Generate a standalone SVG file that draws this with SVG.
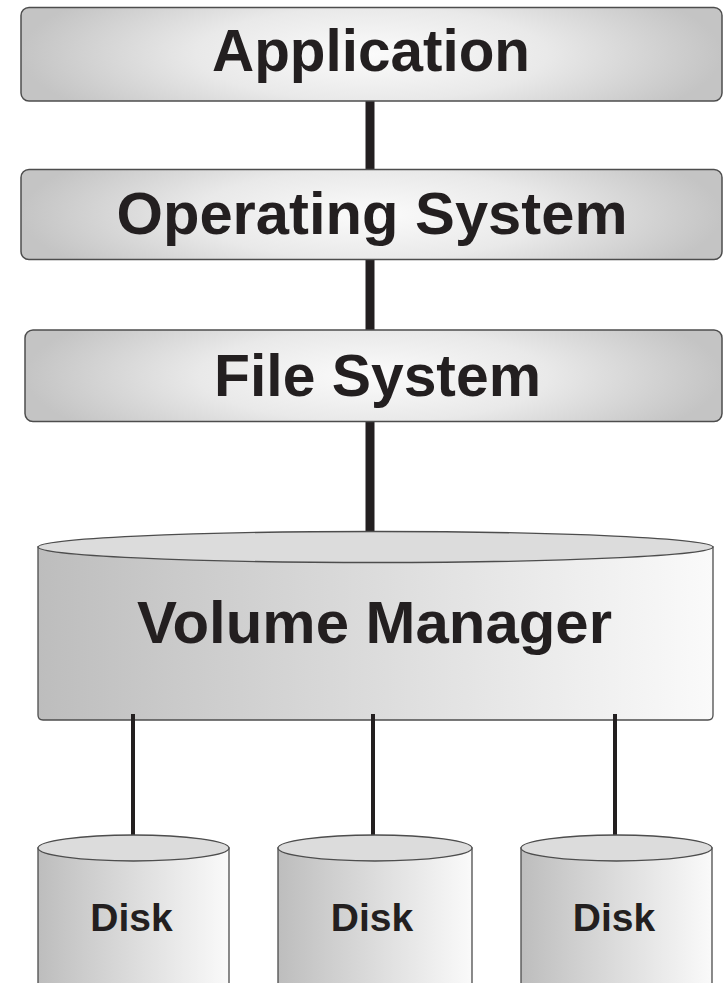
<svg xmlns="http://www.w3.org/2000/svg" width="725" height="983" viewBox="0 0 725 983">
<style>
.box{stroke:#4d4d4d;stroke-width:1.5;fill:url(#boxGrad)}
.lbl{font-family:"Liberation Sans",Arial,sans-serif;font-weight:bold;fill:#231f20;text-anchor:middle}
.big{font-size:59px}
.vm{font-size:59px}
.disk{font-size:39px}
.cylside{stroke:#4d4d4d;stroke-width:1.3;fill:url(#cylGrad)}
.cyltop{stroke:#4d4d4d;stroke-width:1.3;fill:#dcdcdc}
.thick{stroke:#231f20;stroke-width:9;fill:none}
.thin{stroke:#231f20;stroke-width:4;fill:none}
</style>
<defs>
<radialGradient id="boxGrad" cx="0.5" cy="0.5" r="0.5" gradientTransform="matrix(1 0 0 2 0 -0.5)">
<stop offset="0" stop-color="#fbfbfb"/>
<stop offset="0.5" stop-color="#e9e9e9"/>
<stop offset="1" stop-color="#c4c4c4"/>
</radialGradient>
<linearGradient id="cylGrad" x1="0" y1="0" x2="1" y2="0">
<stop offset="0" stop-color="#bdbdbd"/>
<stop offset="0.25" stop-color="#cdcdcd"/>
<stop offset="1" stop-color="#fafafa"/>
</linearGradient>
</defs>
<rect width="725" height="983" fill="#ffffff"/>
<g id="connectors">
<line class="thick" x1="370" y1="101" x2="370" y2="170"/>
<line class="thick" x1="370" y1="259" x2="370" y2="330"/>
<line class="thick" x1="370" y1="421" x2="370" y2="532"/>
</g>
<g id="application">
<rect class="box" x="21" y="7.5" width="701" height="93.5" rx="8"/>
<text class="lbl big" x="371" y="71" textLength="318" lengthAdjust="spacingAndGlyphs">Application</text>
</g>
<g id="operating-system">
<rect class="box" x="21" y="169.5" width="701" height="90" rx="8"/>
<text class="lbl big" x="372" y="234" textLength="511" lengthAdjust="spacingAndGlyphs">Operating System</text>
</g>
<g id="file-system">
<rect class="box" x="25" y="330" width="697" height="91.5" rx="8"/>
<text class="lbl big" x="377.5" y="396" textLength="327" lengthAdjust="spacingAndGlyphs">File System</text>
</g>
<g id="volume-manager">
<path class="cylside" d="M38,547 L38,715 Q38,720 43,720 L708,720 Q713,720 713,715 L713,547 Z"/>
<ellipse class="cyltop" cx="375.5" cy="547" rx="337.5" ry="15.5"/>
<text class="lbl vm" x="374.5" y="643" textLength="475" lengthAdjust="spacingAndGlyphs">Volume Manager</text>
</g>
<g id="disk-connectors">
<line class="thin" x1="133" y1="714" x2="133" y2="836"/>
<line class="thin" x1="373" y1="714" x2="373" y2="836"/>
<line class="thin" x1="615" y1="714" x2="615" y2="836"/>
</g>
<g id="disk1">
<path class="cylside" d="M38,848 L38,984 L229,984 L229,848 Z"/>
<ellipse class="cyltop" cx="133.5" cy="848" rx="95.5" ry="13"/>
<text class="lbl disk" x="131.5" y="931">Disk</text>
</g>
<g id="disk2">
<path class="cylside" d="M278,848 L278,984 L472,984 L472,848 Z"/>
<ellipse class="cyltop" cx="375" cy="848" rx="97" ry="13"/>
<text class="lbl disk" x="372" y="931">Disk</text>
</g>
<g id="disk3">
<path class="cylside" d="M521,848 L521,984 L712,984 L712,848 Z"/>
<ellipse class="cyltop" cx="616.5" cy="848" rx="95.5" ry="13"/>
<text class="lbl disk" x="614" y="931">Disk</text>
</g>
</svg>
